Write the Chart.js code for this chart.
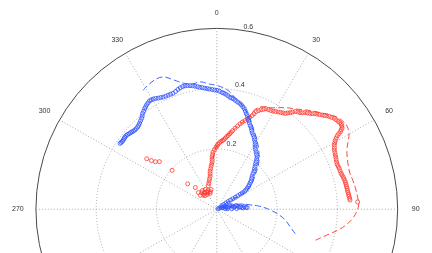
<!DOCTYPE html>
<html>
<head>
<meta charset="utf-8">
<script src="https://cdn.jsdelivr.net/npm/chart.js@4/dist/chart.umd.min.js"></script>
<style>
  html, body { margin: 0; padding: 0; background: #fff; }
</style>
</head>
<body>
<canvas id="polar" width="432" height="253"></canvas>
<script>
// radial ticks and angle ticks (degrees, 0 at top, clockwise)
const rTicks = [0.2, 0.4, 0.6];
const angleTicks = [0, 30, 60, 90, 120, 150, 180, 210, 240, 270, 300, 330];

// [theta in degrees, r] pairs
const bluePoints = [
  [67, .004], [65, .011], [72, .016], [76, .021], [70, .026], [75, .031], [80, .035], [78, .040],
  [74, .045], [77, .051], [82, .055], [82, .060], [79, .065], [81, .070], [85, .074], [84, .079],
  [86, .084], [87, .088], [84, .092], [86, .097], [87, .101], [87, .036], [86, .028], [88, .050], [88, .066],
  [56, .020], [55, .028], [55, .037], [55.5, .046], [56, .055], [56.5, .064], [57, .074], [57, .083],
  [57, .093], [57, .101], [57, .109], [56, .116], [55, .123], [54, .130], [52.5, .136], [51, .143],
  [50, .149], [48, .156], [46.4, .162], [45, .170], [44, .178], [42.5, .185], [41.4, .192], [40, .200],
  [39.1, .207], [38, .215], [37.1, .222], [35.5, .227], [34, .233], [32.5, .239], [31.3, .245], [30.3, .252],
  [29.4, .259], [28.2, .265], [27.1, .272], [25.8, .278], [24.5, .283], [23.5, .290], [22.6, .297], [21.5, .303],
  [20.4, .310], [19.6, .317], [18.8, .324], [17.8, .331], [16.9, .337], [16, .344], [15.1, .351], [14.1, .356],
  [13.1, .361], [12, .365], [10.8, .368], [9.6, .372], [8.5, .376], [7.5, .378], [6.5, .380], [5.4, .385],
  [4.4, .389], [3.4, .392], [2.5, .394], [1.3, .398], [0.1, .401],
  [359, .402], [357.8, .404], [356.6, .406], [355.5, .408], [354.4, .410], [353.3, .413], [352.2, .415],
  [351.2, .418], [350.1, .421], [349.1, .424], [348, .426], [346.9, .428], [345.8, .429], [344.7, .429],
  [343.5, .427], [342.3, .424], [341, .420], [339.6, .417], [338.4, .417], [337.2, .417], [336, .417],
  [334.8, .418], [333.7, .420], [332.6, .422], [331.5, .425], [330.5, .427], [329.5, .428], [328.6, .428],
  [327.5, .425], [326.5, .422], [325.6, .418], [324.8, .415], [323.7, .410], [322.7, .406], [321.8, .400],
  [320.9, .395], [319.7, .391], [318.6, .387], [317.6, .384], [316.6, .382], [315.5, .381], [314.5, .381],
  [313.6, .382], [312.8, .384], [312, .385], [311.2, .387], [310.3, .389], [309.5, .390], [308.6, .390],
  [307.8, .389], [306.9, .388], [306.1, .388], [305.4, .389], [304.7, .390]
];

const blueFitPoints = [
  [107.6, .273], [103.8, .251], [99.3, .231], [95.0, .206], [91.5, .182], [88.3, .160], [85.3, .137],
  [82.5, .112], [78.1, .087], [77, .051], [74, .018], [0, 0],
  [56, .032], [57.7, .070], [58.2, .108], [54.1, .141], [47.8, .172], [42.2, .206], [35.8, .239],
  [29.6, .269], [23.8, .299], [19.2, .328], [14.3, .357], [8.9, .382], [4.7, .405], [0.1, .417],
  [356.1, .424], [352.8, .433], [349.2, .430], [346.3, .436], [343.7, .448], [340.9, .465], [338.3, .480],
  [335.5, .483], [332.2, .478], [329.5, .472], [327.7, .466]
];

const redPoints = [
  [306.2, .288], [307.1, .272], [308.2, .259], [310.1, .249], [311.5, .198], [311.6, .129], [315.9, .102],
  [312.9, .083], [310.8, .072], [322.8, .079], [330.1, .077], [335.7, .069], [322.2, .068], [327.7, .059],
  [337.6, .058], [316.4, .065], [344.2, .069], [318, .075], [326, .070], [333, .064], [340, .063],
  [320, .060], [330, .066],
  [340.2, .084], [343, .091], [345.2, .099], [347, .106], [348.8, .114], [349.5, .122], [350.2, .130],
  [351.5, .138], [352.6, .146], [353.6, .153], [354.5, .161], [354.8, .169], [355.0, .177], [355.7, .185],
  [356.3, .193], [357.8, .201], [359.3, .209], [0.2, .214], [1.0, .219], [2.2, .224], [3.4, .229],
  [4.6, .232], [5.7, .236], [6.7, .241], [7.7, .247], [8.6, .252], [9.5, .258], [10.4, .264], [11.2, .270],
  [12.5, .280], [13.8, .289], [15, .298], [16.1, .306], [17.3, .313], [18.4, .320], [19.4, .328],
  [20.4, .337], [21, .345], [21.6, .354], [22.6, .360], [23.6, .366], [24.7, .371], [25.7, .376],
  [27, .377], [28.3, .378], [29.5, .380], [30.7, .383], [31.9, .386], [33.0, .389], [34.1, .392],
  [35.2, .395], [36, .401], [36.8, .407], [37.5, .413], [38.3, .420], [39.3, .424], [40.3, .427],
  [41.1, .432], [41.9, .438], [42.8, .442], [43.7, .447], [44.5, .452], [45.2, .458], [46, .462],
  [46.9, .467], [47.7, .472], [48.5, .477], [49.2, .482], [50.0, .487], [50.9, .491], [51.8, .496],
  [52.7, .498], [53.6, .500], [54.4, .502], [55.2, .503], [55.9, .501], [56.6, .498], [57, .492],
  [57.5, .486], [57.8, .478], [58.2, .470], [58.8, .463], [59.5, .456], [60.2, .451], [61.0, .446],
  [62, .442], [62.9, .438], [64, .436], [65.0, .434], [66, .432], [67.1, .430], [68.2, .428],
  [69.3, .427], [70.3, .428], [71.3, .429], [72.5, .429], [73.6, .430], [74.5, .431], [75.5, .433],
  [76.4, .434], [77.3, .436], [78.2, .436], [79.1, .437], [80, .437], [80.8, .438], [81.7, .438],
  [82.6, .439], [83.5, .440], [84.3, .441], [85.2, .442], [86.0, .443], [87.0, .468]
];

const redFitPoints = [
  [355.9, .171], [359.3, .209], [4.2, .233], [9.4, .261], [14.9, .294], [19.0, .331], [21.0, .363],
  [23.9, .378], [27.6, .386], [30.9, .399], [34.0, .413], [37.2, .425], [40.1, .439], [43.2, .456],
  [46.3, .472], [49.2, .489], [52.2, .506], [54.7, .513], [57.0, .515], [59.9, .507], [62.3, .492],
  [64.9, .477], [67.8, .467], [70.9, .461], [74.6, .458], [78.0, .462], [81.8, .466], [85.0, .469],
  [88.2, .471], [91.0, .464], [93.9, .452], [96.6, .435], [99.2, .415], [101.7, .391], [104.6, .366],
  [108.0, .342]
];

const rMax = 0.6;
const deg = Math.PI / 180;

// polar (compass) -> cartesian
function toXY(pts) {
  return pts.map(([t, r]) => ({ x: r * Math.sin(t * deg), y: r * Math.cos(t * deg) }));
}

// grid, spokes and labels like a matlab polar plot
const polarGrid = {
  id: 'polarGrid',
  beforeDatasetsDraw(chart) {
    const ctx = chart.ctx;
    const sx = chart.scales.x, sy = chart.scales.y;
    const px = (t, r) => sx.getPixelForValue(r * Math.sin(t * deg));
    const py = (t, r) => sy.getPixelForValue(r * Math.cos(t * deg));
    const cx = px(0, 0), cy = py(0, 0);
    const unit = sx.getPixelForValue(1) - sx.getPixelForValue(0);
    ctx.save();

    // dotted spokes
    ctx.strokeStyle = '#a8a8a8';
    ctx.lineWidth = 1;
    ctx.setLineDash([1, 2]);
    angleTicks.forEach(t => {
      ctx.beginPath();
      ctx.moveTo(cx, cy);
      ctx.lineTo(px(t, rMax), py(t, rMax));
      ctx.stroke();
    });
    // dotted inner circles
    rTicks.slice(0, -1).forEach(r => {
      ctx.beginPath();
      ctx.arc(cx, cy, r * unit, 0, 2 * Math.PI);
      ctx.stroke();
    });
    // solid outer circle
    ctx.setLineDash([]);
    ctx.strokeStyle = '#4a4a4a';
    ctx.beginPath();
    ctx.arc(cx, cy, rMax * unit, 0, 2 * Math.PI);
    ctx.stroke();

    ctx.fillStyle = '#333';
    ctx.font = '7px "Liberation Sans", Arial, sans-serif';
    // angle labels
    ctx.textAlign = 'center';
    ctx.textBaseline = 'middle';
    angleTicks.forEach(t => {
      ctx.fillText(String(t), px(t, rMax * 1.1), py(t, rMax * 1.1));
    });
    // radius labels
    ctx.textAlign = 'left';
    ctx.textBaseline = 'bottom';
    rTicks.forEach(r => {
      ctx.fillText(String(r), px(8, r + 0.01) + 1, py(8, r + 0.01));
    });
    ctx.restore();
  }
};

new Chart(document.getElementById('polar'), {
  type: 'scatter',
  data: {
    datasets: [
      {
        label: 'blue',
        data: toXY(bluePoints),
        showLine: false,
        pointStyle: 'circle',
        pointRadius: 2,
        borderWidth: 0.8,
        borderColor: 'rgb(45, 80, 255)',
        backgroundColor: 'rgba(0,0,0,0)'
      },
      {
        label: 'red',
        data: toXY(redPoints),
        showLine: false,
        pointStyle: 'circle',
        pointRadius: 2,
        borderWidth: 0.8,
        borderColor: 'rgb(255, 55, 45)',
        backgroundColor: 'rgba(0,0,0,0)'
      },
      {
        label: 'blue fit',
        data: toXY(blueFitPoints),
        showLine: true,
        pointRadius: 0,
        borderWidth: 1,
        borderDash: [6, 3],
        tension: 0.4,
        borderColor: 'rgb(60, 100, 255)'
      },
      {
        label: 'red fit',
        data: toXY(redFitPoints),
        showLine: true,
        pointRadius: 0,
        borderWidth: 1,
        borderDash: [6, 3],
        tension: 0.4,
        borderColor: 'rgb(255, 70, 60)'
      }
    ]
  },
  options: {
    responsive: false,
    animation: false,
    layout: { padding: 0 },
    plugins: { legend: { display: false }, tooltip: { enabled: false } },
    scales: {
      x: { type: 'linear', display: false, min: -0.7032, max: 0.6980 },
      y: { type: 'linear', display: false, min: -0.1314, max: 0.6893 }
    }
  },
  plugins: [polarGrid]
});
</script>
</body>
</html>
